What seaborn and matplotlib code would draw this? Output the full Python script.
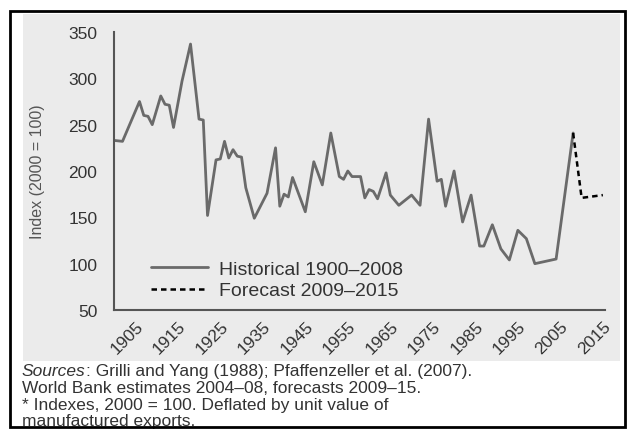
import pandas as pd
import matplotlib.pyplot as plt
import matplotlib.patches as patches
import seaborn as sns

# Historical index values (2000 = 100)
hist_years = [1900, 1902, 1906, 1907, 1908, 1909, 1911, 1912, 1913, 1914, 1916, 1918,
              1920, 1921, 1922, 1924, 1925, 1926, 1927, 1928, 1929, 1930, 1931, 1933,
              1936, 1938, 1939, 1940, 1941, 1942, 1945, 1947, 1949, 1951, 1953, 1954,
              1955, 1956, 1958, 1959, 1960, 1961, 1962, 1964, 1965, 1967, 1970, 1972,
              1974, 1976, 1977, 1978, 1980, 1982, 1984, 1986, 1987, 1989, 1991, 1993,
              1995, 1997, 1999, 2001, 2004, 2008]
hist_values = [233, 232, 275, 260, 259, 250, 281, 272, 271, 247, 297, 337,
               256, 255, 152, 212, 213, 232, 214, 223, 216, 215, 182, 149,
               176, 225, 162, 175, 172, 193, 156, 210, 185, 241, 194, 191,
               200, 194, 194, 171, 180, 178, 170, 198, 174, 163, 174, 163,
               256, 189, 191, 162, 200, 145, 174, 119, 119, 142, 116, 104,
               136, 127, 100, 102, 105, 241]

# Forecast values
fc_years = [2008, 2010, 2015]
fc_values = [241, 171, 174]

tick_years = list(range(1905, 2016, 10))
y_ticks = [50, 100, 150, 200, 250, 300, 350]

caption_lines = [
    "World Bank estimates 2004\u201308, forecasts 2009\u201315.",
    "* Indexes, 2000 = 100. Deflated by unit value of",
    "manufactured exports.",
]

df_hist = pd.DataFrame({'year': hist_years, 'index': hist_values})
df_fc = pd.DataFrame({'year': fc_years, 'index': fc_values})

sns.set_theme(style='white')
plt.rcParams['font.family'] = ['Liberation Sans', 'DejaVu Sans']

panel_grey = '#ebebeb'
fig = plt.figure(figsize=(6.33, 4.31), dpi=100)
fig.patch.set_facecolor('white')

W, H = 633, 431
# grey panel behind the chart
fig.patches.append(patches.Rectangle((23 / W, 1 - 362 / H), 597 / W, 347 / H,
                                     transform=fig.transFigure, facecolor=panel_grey,
                                     edgecolor='none', zorder=-5))
# black outer frame
fig.patches.append(patches.Rectangle((10 / W, 1 - 428 / H), 615 / W, 416 / H,
                                     transform=fig.transFigure, facecolor='none',
                                     edgecolor='black', linewidth=2, zorder=5))

ax = fig.add_axes([114 / W, 1 - 311 / H, 491 / W, 278 / H])
ax.set_facecolor(panel_grey)

sns.lineplot(data=df_hist, x='year', y='index', ax=ax, color='#6a6a6a',
             linewidth=2.0, label='Historical 1900\u20132008')
sns.lineplot(data=df_fc, x='year', y='index', ax=ax, color='black',
             linewidth=1.8, linestyle=(0, (2.2, 1.6)), label='Forecast 2009\u20132015')

ax.set_xlim(1900, 2015.5)
ax.set_ylim(50, 350)
ax.set_xticks(tick_years)
ax.set_xticklabels([str(y) for y in tick_years], rotation=45, ha='right',
                   rotation_mode='anchor')
ax.set_yticks(y_ticks)
ax.tick_params(axis='both', length=0, labelsize=12.5, labelcolor='#333333')
ax.tick_params(axis='y', pad=12)
ax.tick_params(axis='x', pad=6)

for side in ['top', 'right']:
    ax.spines[side].set_visible(False)
for side in ['left', 'bottom']:
    ax.spines[side].set_color('#555555')
    ax.spines[side].set_linewidth(1.5)

ax.set_xlabel('')
ax.set_ylabel('Index (2000 = 100)', fontsize=11.5, color='#555555')
ax.yaxis.set_label_coords(-0.14, 0.5)

leg = ax.legend(loc='lower left', bbox_to_anchor=(0.04, -0.025), frameon=False,
                fontsize=14, handlelength=2.9, labelspacing=0.2, handletextpad=0.6)
for t in leg.get_texts():
    t.set_color('#333333')

# caption
cap = fig.text(22 / W, 1 - 372 / H, 'Sources', style='italic', fontsize=12.5,
               color='#333333', va='center')
fig.canvas.draw()
bb = cap.get_window_extent()
fig.text(bb.x1 / W, 1 - 372 / H, ': Grilli and Yang (1988); Pfaffenzeller et al. (2007).',
         fontsize=12.5, color='#333333', va='center')
for i, line in enumerate(caption_lines):
    fig.text(22 / W, 1 - (389 + 16.5 * i) / H, line, fontsize=12.5,
             color='#333333', va='center')

fig.savefig('out.png', dpi=100)
